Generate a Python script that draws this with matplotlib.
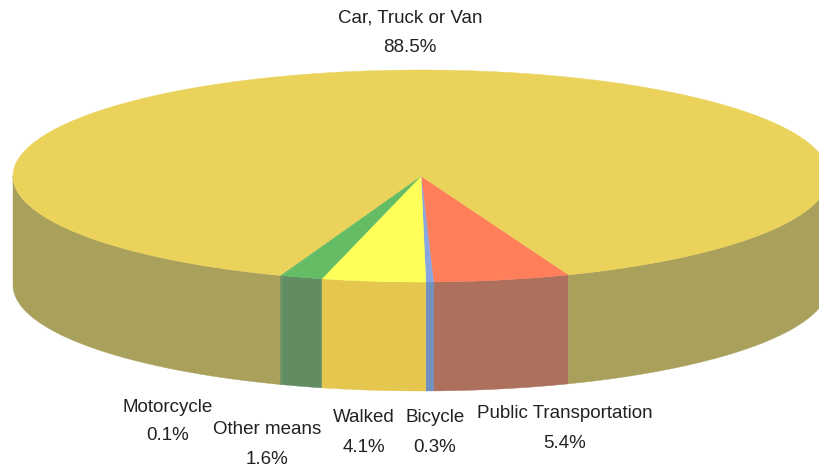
import numpy as np
import matplotlib
matplotlib.use('Agg')
from matplotlib import pyplot as plt

# slices in drawing order, clockwise starting from the right edge of Public Transportation
labels = ['Public Transportation', 'Bicycle', 'Walked', 'Other means', 'Motorcycle', 'Car, Truck or Van']
shares = [5.4, 0.3, 4.1, 1.6, 0.1, 88.5]
top_colors = ['#FF7F5B', '#88A6E0', '#FFFF5A', '#64BC64', '#64BC64', '#EBD25A']
side_colors = ['#AD705C', '#7090C2', '#E5C750', '#628C62', '#628C62', '#A9A05C']

# label centres in pixels (name y, value y)
label_x = [565, 435, 364, 267, 168, 410]
label_y = [414, 418, 418, 430, 407, 18]
value_y = [444, 448, 448, 459, 436, 47]

cx, cy = 421, 176
rx, ry = 408, 106
depth = 109
start = 68.8

plt.rcParams['font.family'] = ['Liberation Sans', 'DejaVu Sans']

fig = plt.figure(figsize=(8.2, 4.69), dpi=100)
ax = fig.add_axes([0, 0, 1, 1])
ax.set_xlim(0, 820)
ax.set_ylim(469, 0)
ax.axis('off')


def rim(t):
    return cx + rx * np.cos(np.radians(t)), cy + ry * np.sin(np.radians(t))


edges = start + np.concatenate([[0], np.cumsum(shares)]) * 3.6

for i in range(len(shares)):
    t0, t1 = edges[i], edges[i + 1]
    # wall, only the front half of the ellipse shows (0-180 and 360-540)
    for lo, hi in [(0, 180), (360, 540)]:
        a, b = max(t0, lo), min(t1, hi)
        if a < b:
            t = np.linspace(a, b, 200)
            x, y = rim(t)
            ax.fill(np.r_[x, x[::-1]], np.r_[y, y[::-1] + depth],
                    color=side_colors[i], lw=0.3)

for i in range(len(shares)):
    t = np.linspace(edges[i], edges[i + 1], 400)
    x, y = rim(t)
    ax.fill(np.r_[cx, x], np.r_[cy, y], color=top_colors[i], lw=0.3)

for i in range(len(shares)):
    ax.text(label_x[i], label_y[i], labels[i], ha='center', va='center',
            fontsize=13.5, color='#222222')
    ax.text(label_x[i], value_y[i], '%.1f%%' % shares[i], ha='center', va='center',
            fontsize=13.5, color='#222222')

fig.savefig('out.png', dpi=100)
